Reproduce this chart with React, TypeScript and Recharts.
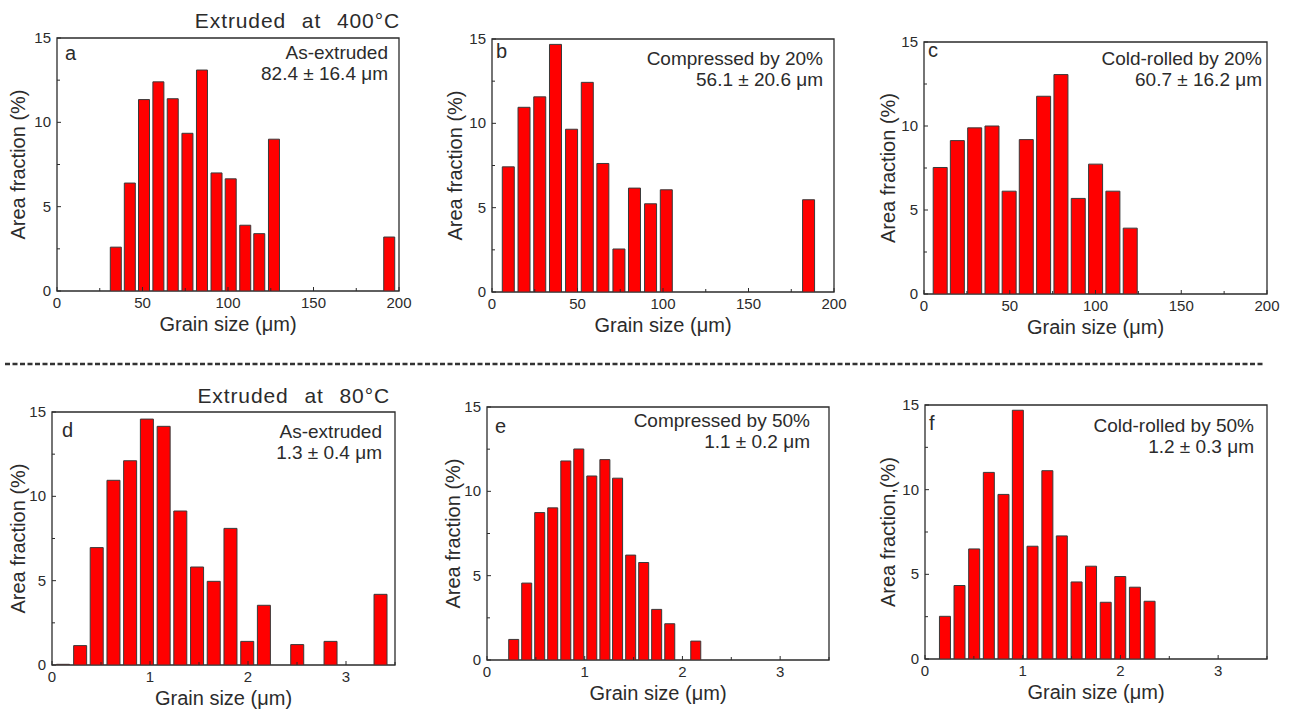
import { BarChart, Bar, XAxis, YAxis, ReferenceArea } from "recharts";

// grain size bin centres (x) and area fraction (%) per panel
const sizeA = [34.1, 42.3, 50.6, 59.0, 67.4, 76.0, 84.5, 93.0, 101.3, 109.8, 118.0, 126.6, 194.0];
const fracA = [2.6, 6.4, 11.35, 12.4, 11.4, 9.35, 13.1, 7.0, 6.65, 3.9, 3.4, 9.0, 3.2];

const sizeB = [9.4, 18.6, 27.8, 37.0, 46.4, 55.6, 64.7, 74.1, 83.2, 92.6, 101.8, 185.0];
const fracB = [7.42, 10.95, 11.57, 14.68, 9.65, 12.43, 7.62, 2.55, 6.16, 5.23, 6.06, 5.47];

const sizeC = [9.2, 19.2, 29.3, 39.4, 49.4, 59.4, 69.5, 79.6, 89.7, 99.8, 109.9, 120.0];
const fracC = [7.53, 9.13, 9.89, 10.0, 6.12, 9.19, 11.77, 13.06, 5.69, 7.73, 6.12, 3.92];

const sizeD = [0.11, 0.285, 0.454, 0.625, 0.795, 0.966, 1.137, 1.307, 1.478, 1.648, 1.819, 1.99, 2.16, 2.5, 2.84, 3.35];
const fracD = [0.04, 1.15, 6.96, 10.95, 12.11, 14.58, 14.15, 9.13, 5.81, 4.96, 8.1, 1.4, 3.54, 1.21, 1.4, 4.19];

const sizeE = [0.277, 0.41, 0.543, 0.676, 0.81, 0.943, 1.076, 1.21, 1.34, 1.474, 1.607, 1.74, 1.874, 2.14];
const fracE = [1.22, 4.56, 8.74, 9.02, 11.8, 12.51, 10.91, 11.88, 10.78, 6.22, 5.78, 3.0, 2.15, 1.12];

const sizeF = [0.201, 0.35, 0.5, 0.65, 0.8, 0.947, 1.097, 1.249, 1.397, 1.548, 1.696, 1.846, 1.995, 2.145, 2.295];
const fracF = [2.52, 4.34, 6.5, 11.02, 9.72, 14.69, 6.66, 11.12, 7.27, 4.55, 5.48, 3.35, 4.87, 4.24, 3.41];

const ticksMicro = [0, 25, 50, 75, 100, 125, 150, 175, 200];
const ticksFine = [0, 0.5, 1, 1.5, 2, 2.5, 3, 3.5];
const ticksY = [0, 2.5, 5, 7.5, 10, 12.5, 15];

const INK = "#2b2b2b";
const FONT = '"Liberation Sans", Arial, sans-serif';
const M = 50;

type Panel = {
  letter: string;
  note1: string;
  note2: string;
  yTitle: string;
  xs: number[];
  vs: number[];
  xMax: number;
  xTicks: number[];
  majorStep: number;
  left: number;
  top: number;
  w: number;
  h: number;
  letterDx: number;
  letterY: number;
  notePad: number;
  note1Y: number;
  note2Y: number;
  yGap: number;
};

const panels: Panel[] = [
  { letter: "a", note1: "As-extruded", note2: "82.4 ± 16.4 μm", yTitle: "Area fraction (%)", xs: sizeA, vs: fracA, xMax: 200, xTicks: ticksMicro, majorStep: 50,
    left: 57, top: 38, w: 342, h: 253, letterDx: 8, letterY: 22, notePad: 11, note1Y: 21, note2Y: 42, yGap: 32 },
  { letter: "b", note1: "Compressed by 20%", note2: "56.1 ± 20.6 μm", yTitle: "Area fraction (%)", xs: sizeB, vs: fracB, xMax: 200, xTicks: ticksMicro, majorStep: 50,
    left: 492, top: 39, w: 342, h: 253, letterDx: 4, letterY: 19, notePad: 11, note1Y: 26, note2Y: 47, yGap: 30 },
  { letter: "c", note1: "Cold-rolled by 20%", note2: "60.7 ± 16.2 μm", yTitle: "Area fraction (%)", xs: sizeC, vs: fracC, xMax: 200, xTicks: ticksMicro, majorStep: 50,
    left: 924, top: 42, w: 343, h: 252, letterDx: 4, letterY: 15, notePad: 5, note1Y: 23, note2Y: 44, yGap: 29 },
  { letter: "d", note1: "As-extruded", note2: "1.3 ± 0.4 μm", yTitle: "Area fraction (%)", xs: sizeD, vs: fracD, xMax: 3.5, xTicks: ticksFine, majorStep: 1,
    left: 52, top: 412, w: 343, h: 253, letterDx: 10, letterY: 25, notePad: 13, note1Y: 26, note2Y: 47, yGap: 27 },
  { letter: "e", note1: "Compressed by 50%", note2: "1.1 ± 0.2 μm", yTitle: "Area fraction (%)", xs: sizeE, vs: fracE, xMax: 3.5, xTicks: ticksFine, majorStep: 1,
    left: 487, top: 407, w: 342, h: 253, letterDx: 8, letterY: 26, notePad: 19, note1Y: 20, note2Y: 41, yGap: 27 },
  { letter: "f", note1: "Cold-rolled by 50%", note2: "1.2 ± 0.3 μm", yTitle: "Area fraction,(%)", xs: sizeF, vs: fracF, xMax: 3.5, xTicks: ticksFine, majorStep: 1,
    left: 925, top: 405, w: 342, h: 254, letterDx: 4, letterY: 25, notePad: 13, note1Y: 27, note2Y: 48, yGap: 30 },
];

const isMultiple = (v: number, step: number) => Math.abs(v / step - Math.round(v / step)) < 1e-6;

const XTick = ({ x, y, payload, step }: any) => {
  const major = isMultiple(payload.value, step);
  return (
    <g>
      <line x1={x} x2={x} y1={y} y2={y - (major ? 4 : 3)} stroke={INK} strokeWidth={1} />
      {major && (
        <text x={x} y={y + 17} textAnchor="middle" fontSize={15} fill={INK} fontFamily={FONT}>
          {payload.value}
        </text>
      )}
    </g>
  );
};

const YTick = ({ x, y, payload }: any) => {
  const major = isMultiple(payload.value, 5);
  return (
    <g>
      <line x1={x} x2={x + (major ? 4 : 3)} y1={y} y2={y} stroke={INK} strokeWidth={1} />
      {major && (
        <text x={x - 6} y={y + 5} textAnchor="end" fontSize={15} fill={INK} fontFamily={FONT}>
          {payload.value}
        </text>
      )}
    </g>
  );
};

const Histogram = ({ p }: { p: Panel }) => {
  const rows = p.xs.map((x, i) => ({ x, v: p.vs[i] }));
  let gap = Infinity;
  for (let i = 1; i < p.xs.length; i++) gap = Math.min(gap, p.xs[i] - p.xs[i - 1]);
  const barSize = Math.round((gap * p.w) / p.xMax * 0.8);
  return (
    <div style={{ position: "absolute", left: p.left - M, top: p.top - M }}>
      <BarChart width={p.w + 2 * M} height={p.h + 2 * M} data={rows} margin={{ top: M, right: M, bottom: M - 1, left: M - 1 }}>
        <XAxis
          dataKey="x"
          type="number"
          domain={[0, p.xMax]}
          ticks={p.xTicks}
          interval={0}
          allowDataOverflow
          axisLine={false}
          tickLine={false}
          tickSize={0}
          tickMargin={0}
          height={1}
          tick={(props: any) => <XTick {...props} step={p.majorStep} />}
        />
        <YAxis
          type="number"
          domain={[0, 15]}
          ticks={ticksY}
          interval={0}
          allowDataOverflow
          axisLine={false}
          tickLine={false}
          tickSize={0}
          tickMargin={0}
          width={1}
          tick={(props: any) => <YTick {...props} />}
        />
        <Bar dataKey="v" fill="#ff0000" stroke="#3a3a3a" strokeWidth={1} barSize={barSize} isAnimationActive={false} />
        <ReferenceArea x1={0} x2={p.xMax} y1={0} y2={15} fill="none" fillOpacity={0} stroke={INK} strokeWidth={1.3} strokeOpacity={1} />
      </BarChart>
    </div>
  );
};

export default function App() {
  return (
    <div style={{ position: "absolute", left: 0, top: 0, width: 1294, height: 713, background: "#fff", overflow: "hidden", fontFamily: FONT }}>
      {panels.map((p) => (
        <Histogram key={p.letter} p={p} />
      ))}
      <svg width={1294} height={713} style={{ position: "absolute", left: 0, top: 0, pointerEvents: "none" }} fontFamily={FONT} fill={INK}>
        <text x={400} y={28} textAnchor="end" fontSize={21} style={{ wordSpacing: 9, letterSpacing: 0.9 }}>
          Extruded at 400°C
        </text>
        <text x={390} y={403} textAnchor="end" fontSize={21} style={{ wordSpacing: 9, letterSpacing: 0.9 }}>
          Extruded at 80°C
        </text>
        <line x1={5} x2={1263} y1={364} y2={364} stroke="#333" strokeWidth={2.5} strokeDasharray="5 2.5" />
        {panels.map((p) => (
          <g key={p.letter}>
            <text x={p.left + p.letterDx} y={p.top + p.letterY} fontSize={20}>
              {p.letter}
            </text>
            <text x={p.left + p.w - p.notePad} y={p.top + p.note1Y} textAnchor="end" fontSize={19}>
              {p.note1}
            </text>
            <text x={p.left + p.w - p.notePad} y={p.top + p.note2Y} textAnchor="end" fontSize={19}>
              {p.note2}
            </text>
            <text x={p.left + p.w / 2} y={p.top + p.h + 40} textAnchor="middle" fontSize={20}>
              Grain size (μm)
            </text>
            <text
              transform={`translate(${p.left - p.yGap}, ${p.top + p.h / 2}) rotate(-90)`}
              textAnchor="middle"
              fontSize={20}
            >
              {p.yTitle}
            </text>
          </g>
        ))}
      </svg>
    </div>
  );
}
